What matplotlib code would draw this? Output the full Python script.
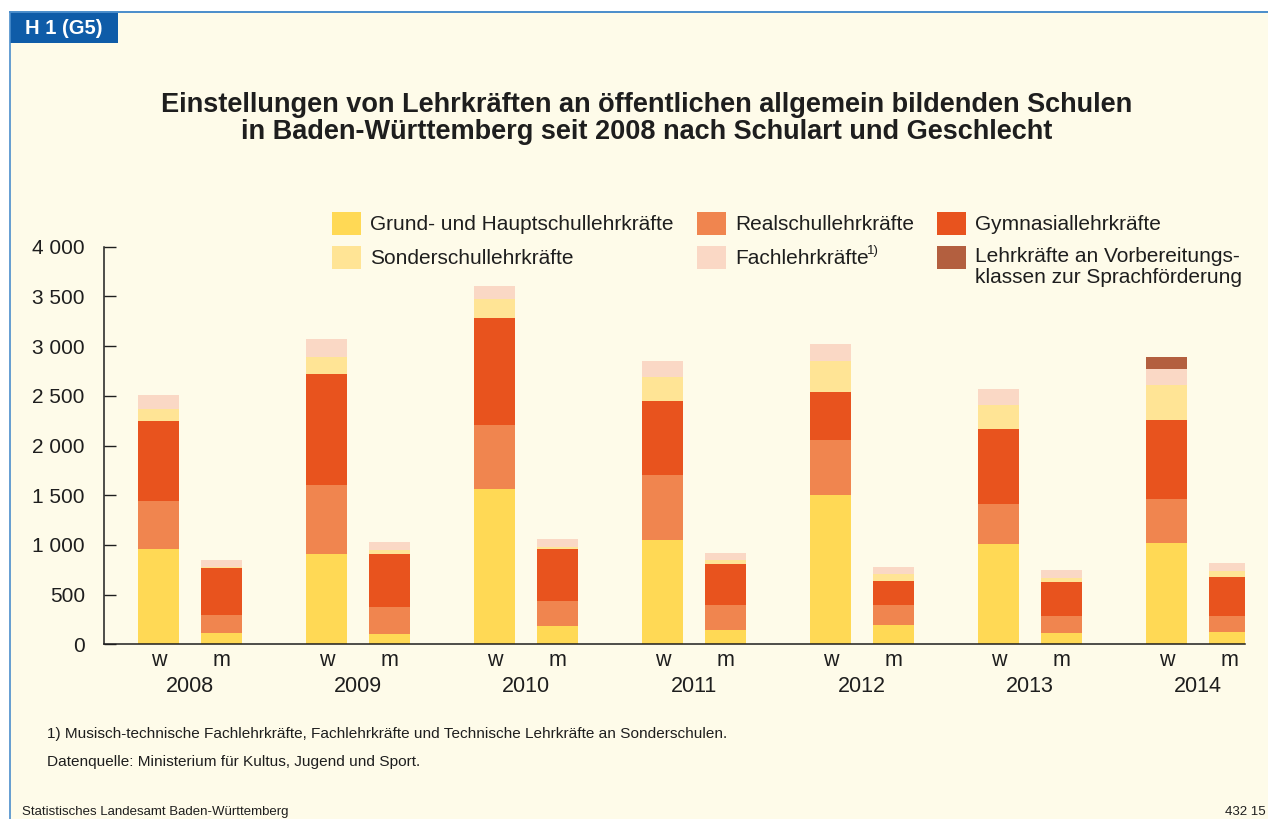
import matplotlib
matplotlib.use('Agg')
import matplotlib.pyplot as plt
from matplotlib.patches import Rectangle
from matplotlib.lines import Line2D
import numpy as np

# values (teachers hired, by school type, w = women, m = men)
years = ['2008', '2009', '2010', '2011', '2012', '2013', '2014']
grund_w = [960, 909, 1562, 1049, 1502, 1009, 1019]
grund_m = [114, 104, 184, 144, 194, 114, 124]
real_w = [483, 694, 644, 654, 553, 403, 443]
real_m = [181, 272, 252, 252, 202, 171, 161]
gym_w = [804, 1116, 1076, 745, 483, 754, 795]
gym_m = [473, 533, 523, 412, 241, 342, 392]
sonder_w = [121, 171, 192, 241, 312, 241, 348]
sonder_m = [13, 40, 17, 40, 74, 40, 61]
fach_w = [141, 181, 130, 161, 171, 161, 165]
fach_m = [67, 80, 84, 71, 67, 81, 80]
vorb_w = [0, 0, 0, 0, 0, 0, 120]
vorb_m = [0, 0, 0, 0, 0, 0, 0]

series_labels = ['Grund- und Hauptschullehrkräfte', 'Realschullehrkräfte',
                 'Gymnasiallehrkräfte', 'Sonderschullehrkräfte',
                 'Fachlehrkräfte', 'Lehrkräfte an Vorbereitungs-\nklassen zur Sprachförderung']
colors = ['#FFD955', '#F0854F', '#E8531E', '#FFE495', '#FAD8C5', '#B35F3F']
y_ticks = [0, 500, 1000, 1500, 2000, 2500, 3000, 3500, 4000]

W, H = 1268, 819
plt.rcParams['font.family'] = ['Liberation Sans', 'DejaVu Sans']
TXT = '#1e1e1e'
BG = '#FEFBE9'


def fx(x):
    return x / W


def fy(y):
    return 1 - y / H


fig = plt.figure(figsize=(W / 100, H / 100), dpi=100, facecolor='white')

# cream panel with blue frame lines
fig.add_artist(Rectangle((fx(10), 0), fx(W - 10), fy(12), transform=fig.transFigure,
                         facecolor=BG, edgecolor='none', zorder=0))
fig.add_artist(Line2D([fx(10), 1], [fy(12), fy(12)], transform=fig.transFigure,
                      color='#4A8DCB', lw=1.4))
fig.add_artist(Line2D([fx(10), fx(10)], [0, fy(12)], transform=fig.transFigure,
                      color='#4A8DCB', lw=1.2))
fig.add_artist(Rectangle((fx(10), fy(43)), fx(108), (43 - 12) / H, transform=fig.transFigure,
                         facecolor='#0F5CA8', edgecolor='none'))
fig.text(fx(64), fy(28), 'H 1 (G5)', color='white', fontsize=14.5, fontweight='bold',
         ha='center', va='center')

fig.text(fx(647), fy(105), 'Einstellungen von Lehrkräften an öffentlichen allgemein bildenden Schulen',
         ha='center', va='center', fontsize=19.5, fontweight='bold', color=TXT)
fig.text(fx(647), fy(132), 'in Baden-Württemberg seit 2008 nach Schulart und Geschlecht',
         ha='center', va='center', fontsize=19.5, fontweight='bold', color=TXT)

# axes
ax = fig.add_axes([fx(104.3), fy(644.3), fx(1245 - 104.3), (644.3 - 246.7) / H])
ax.set_facecolor('none')

x = np.arange(len(years))
xw = x - 0.1875
xm = x + 0.1875
bw = 0.244

w_series = [grund_w, real_w, gym_w, sonder_w, fach_w, vorb_w]
m_series = [grund_m, real_m, gym_m, sonder_m, fach_m, vorb_m]
bottom_w = np.zeros(len(years))
bottom_m = np.zeros(len(years))
for vals_w, vals_m, c in zip(w_series, m_series, colors):
    ax.bar(xw, vals_w, bw, bottom=bottom_w, color=c, linewidth=0)
    ax.bar(xm, vals_m, bw, bottom=bottom_m, color=c, linewidth=0)
    bottom_w += np.array(vals_w)
    bottom_m += np.array(vals_m)

ax.set_xlim(-0.51, 6.28)
ax.set_ylim(0, 4000)
ax.set_yticks(y_ticks)
ax.set_yticklabels([f'{v:,}'.replace(',', ' ') for v in y_ticks])
ax.tick_params(axis='y', direction='in', length=8.5, width=1.0, pad=14,
               labelsize=15, colors=TXT)
ax.set_xticks(np.concatenate([xw, xm]))
ax.set_xticklabels(['w'] * len(years) + ['m'] * len(years))
ax.tick_params(axis='x', length=0, pad=4, labelsize=15.5, colors=TXT)
for i, yr in enumerate(years):
    ax.text(x[i], -0.106, yr, transform=ax.get_xaxis_transform(), ha='center',
            va='center', fontsize=15.5, color=TXT)

for s in ['top', 'right']:
    ax.spines[s].set_visible(False)
for s in ['left', 'bottom']:
    ax.spines[s].set_color(TXT)
    ax.spines[s].set_linewidth(1.1)

# legend, laid out as in the original (two rows, three columns)
leg_pos = [(332, 223), (697, 223), (937, 223), (332, 257), (697, 257), (937, 257)]
for (px, py), lab, c in zip(leg_pos, series_labels, colors):
    fig.add_artist(Rectangle((fx(px), fy(py + 11.5)), fx(29), 23 / H,
                             transform=fig.transFigure, facecolor=c, edgecolor='none'))
    if '\n' in lab:
        fig.text(fx(px + 38), fy(py - 9.5), lab, ha='left', va='top', fontsize=15,
                 color=TXT, linespacing=1.08)
    else:
        fig.text(fx(px + 38), fy(py + 1), lab, ha='left', va='center', fontsize=15, color=TXT)
fig.text(fx(867), fy(251), '1)', ha='left', va='center', fontsize=9.5, color=TXT)

narrow = ['Liberation Sans Narrow', 'Liberation Sans', 'DejaVu Sans']
fig.text(fx(47), fy(734), '1) Musisch-technische Fachlehrkräfte, Fachlehrkräfte und Technische '
         'Lehrkräfte an Sonderschulen.', ha='left', va='center', fontsize=11.1,
         family=narrow, color=TXT)
fig.text(fx(47), fy(762), 'Datenquelle: Ministerium für Kultus, Jugend und Sport.', ha='left',
         va='center', fontsize=11.1, family=narrow, color=TXT)
fig.text(fx(22), fy(812), 'Statistisches Landesamt Baden-Württemberg', ha='left', va='center',
         fontsize=9.5, family=narrow, color=TXT)
fig.text(fx(1266), fy(812), '432 15', ha='right', va='center', fontsize=9.5, family=narrow,
         color=TXT)

fig.savefig('out.png', dpi=100, facecolor=fig.get_facecolor())
